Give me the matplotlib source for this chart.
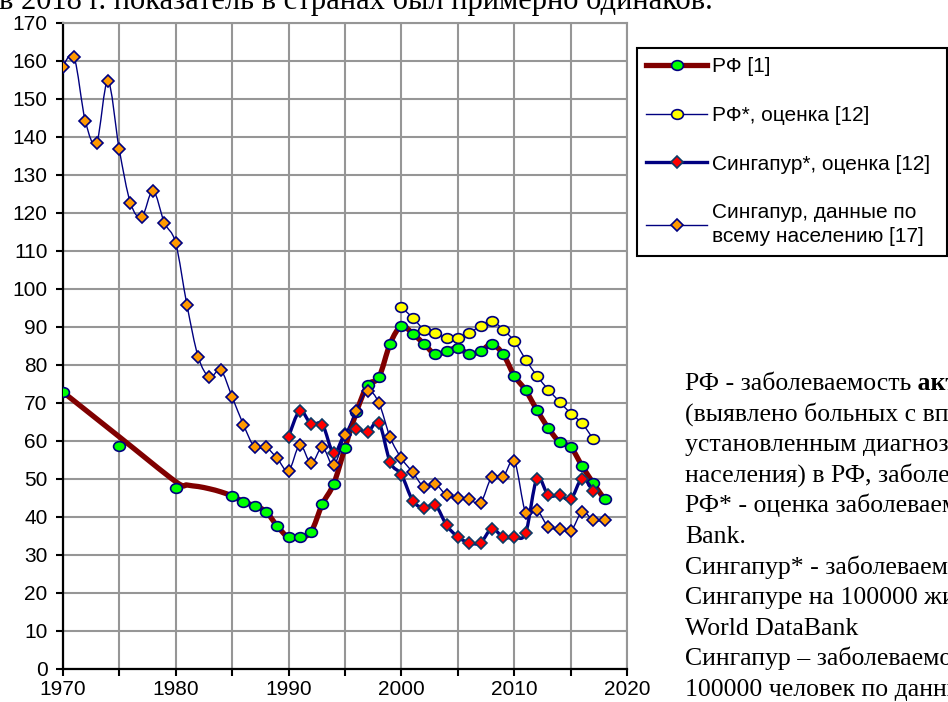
import numpy as np
import matplotlib
matplotlib.use("Agg")
import matplotlib.pyplot as plt
from matplotlib.path import Path
from matplotlib.patches import PathPatch
from matplotlib.lines import Line2D
from matplotlib.ticker import MultipleLocator

# РФ [1] - markers
rf_years = [1970, 1975, 1980] + list(range(1985, 2019))
rf_vals = [72.9, 58.7, 47.6,
           45.5, 44.0, 42.9, 41.4, 37.6, 34.6, 34.6, 36.1, 43.4, 48.7,
           58.2, 67.5, 74.7, 76.7, 85.6, 90.2, 88.2, 85.5, 82.8, 83.6,
           84.5, 82.8, 83.6, 85.4, 82.8, 77.1, 73.3, 68.1, 63.4, 59.7,
           58.3, 53.4, 48.8, 44.6]
# РФ [1] - the thick line before 1985 (drawn without markers)
rf_line_early_years = [1970, 1975, 1980, 1981, 1982, 1983, 1984]
rf_line_early_vals = [72.9, 61.1, 49.3, 48.4, 48.0, 47.4, 46.6]

# РФ*, оценка [12]
rfe_years = list(range(2000, 2018))
rfe_vals = [95.1, 92.4, 89.3, 88.3, 87.1, 87.1, 88.3, 90.3, 91.5, 89.3,
            86.2, 81.4, 77.1, 73.5, 70.3, 67.2, 64.6, 60.4]

# Сингапур*, оценка [12]
sge_years = list(range(1990, 2018))
sge_vals = [61.1, 67.9, 64.4, 64.3, 56.8, 61.9, 63.2, 62.3, 64.8, 54.4,
            51.1, 44.3, 42.3, 43.1, 37.8, 34.7, 33.2, 33.2, 36.9, 34.7,
            34.7, 35.8, 50.1, 45.7, 45.7, 44.7, 50.1, 46.8]

# Сингапур, данные по всему населению [17]
sg_years = list(range(1970, 2019))
sg_vals = [158.4, 161.0, 144.2, 138.4, 154.7, 136.8, 122.6, 118.9, 125.8, 117.4,
           112.1, 95.8, 82.1, 76.8, 78.6, 71.6, 64.3, 58.3, 58.3, 55.4,
           52.1, 58.9, 54.1, 58.3, 53.6, 61.5, 67.9, 73.2, 70.0, 60.9,
           55.4, 51.7, 47.9, 48.6, 45.7, 45.1, 44.7, 43.7, 50.5, 50.5,
           54.7, 41.1, 41.8, 37.4, 36.9, 36.3, 41.3, 39.1, 39.1]

labels = ["РФ [1]", "РФ*, оценка [12]", "Сингапур*, оценка [12]",
          "Сингапур, данные по\nвсему населению [17]"]

top_line = "в 2018 г. показатель в странах был примерно одинаков."
note_lines = [
    "РФ - заболеваемость",
    "(выявлено больных с впервые в жизни",
    "установленным диагнозом на 100000",
    "населения) в РФ, заболеваемость",
    "РФ* - оценка заболеваемости по World Data",
    "Bank.",
    "Сингапур* - заболеваемость туберкулезом в",
    "Сингапуре на 100000 жителей по данным",
    "World DataBank",
    "Сингапур – заболеваемость туберкулезом на",
    "100000 человек по данным",
]
note_bold = " активным туберкулезом"

plt.rcParams['font.family'] = ['Liberation Sans', 'DejaVu Sans']

NAVY = '#000080'
circ = Path.unit_circle()
ell = Path(circ.vertices * [1.0, 0.82], circ.codes)


def smooth_path(xs, ys):
    # Excel-like smoothed line: cubic Bezier through every point
    p = np.column_stack([xs, ys]).astype(float)
    pe = np.vstack([p[0], p, p[-1]])
    verts = [p[0]]
    codes = [Path.MOVETO]
    for i in range(len(p) - 1):
        c1 = pe[i + 1] + (pe[i + 2] - pe[i]) / 6
        c2 = pe[i + 2] - (pe[i + 3] - pe[i + 1]) / 6
        verts += [c1, c2, pe[i + 2]]
        codes += [Path.CURVE4] * 3
    return Path(verts, codes)


def draw_line(ax, xs, ys, color, lw, z):
    patch = PathPatch(smooth_path(xs, ys), facecolor='none', edgecolor=color,
                      lw=lw, zorder=z, capstyle='round', joinstyle='round')
    ax.add_patch(patch)


fig = plt.figure(figsize=(9.48, 7.02), dpi=100)
ax = fig.add_axes([62.7 / 948, 1 - 669 / 702, 564.6 / 948, 646.3 / 702])

# РФ [1]
rf_line_x = rf_line_early_years + rf_years[3:]
rf_line_y = rf_line_early_vals + rf_vals[3:]
draw_line(ax, rf_line_x, rf_line_y, '#800000', 3.8, 3)
ax.plot(rf_years, rf_vals, ls='none', marker=ell, ms=8.5, mfc='#00ff00',
        mec=NAVY, mew=1.2, zorder=4)

# РФ*
draw_line(ax, rfe_years, rfe_vals, NAVY, 1.0, 5)
ax.plot(rfe_years, rfe_vals, ls='none', marker=ell, ms=8.5, mfc='#ffff00',
        mec=NAVY, mew=1.2, zorder=6)

# Сингапур*
draw_line(ax, sge_years, sge_vals, NAVY, 2.4, 7)
ax.plot(sge_years, sge_vals, ls='none', marker='D', ms=6, mfc='#ff0000',
        mec='#0d3b66', mew=1.2, zorder=8)

# Сингапур
draw_line(ax, sg_years, sg_vals, NAVY, 1.0, 9)
ax.plot(sg_years, sg_vals, ls='none', marker='D', ms=6, mfc='#ff9900',
        mec=NAVY, mew=1.2, zorder=10)

ax.set_xlim(1970, 2020)
ax.set_ylim(0, 170)
ax.xaxis.set_major_locator(MultipleLocator(10))
ax.xaxis.set_minor_locator(MultipleLocator(5))
ax.yaxis.set_major_locator(MultipleLocator(10))
ax.set_axisbelow(True)
ax.grid(which='both', axis='x', color='#969696', lw=1.5)
ax.grid(which='major', axis='y', color='#969696', lw=1.5)
ax.tick_params(which='both', direction='out', length=5, width=1.5,
               labelsize=15)
ax.tick_params(axis='x', pad=3)
ax.tick_params(axis='y', pad=6)
for side in ['left', 'bottom']:
    ax.spines[side].set_color('black')
    ax.spines[side].set_linewidth(1.6)
for side in ['top', 'right']:
    ax.spines[side].set_color('#969696')
    ax.spines[side].set_linewidth(1.5)

handles = [
    Line2D([], [], color='#800000', lw=3.8, marker=ell, ms=8.5,
           mfc='#00ff00', mec=NAVY, mew=1.2),
    Line2D([], [], color=NAVY, lw=1.0, marker=ell, ms=8.5,
           mfc='#ffff00', mec=NAVY, mew=1.2),
    Line2D([], [], color=NAVY, lw=2.4, marker='D', ms=6,
           mfc='#ff0000', mec='#0d3b66', mew=1.2),
    Line2D([], [], color=NAVY, lw=1.0, marker='D', ms=6,
           mfc='#ff9900', mec=NAVY, mew=1.2),
]
leg = ax.legend(handles, labels, loc='upper left',
                bbox_to_anchor=(637 / 948, 1 - 257 / 702, 310 / 948, 209 / 702),
                bbox_transform=fig.transFigure, mode='expand', borderaxespad=0,
                fancybox=False, edgecolor='black', framealpha=1, fontsize=15,
                handlelength=2.9, handletextpad=0.25, labelspacing=1.42,
                borderpad=0.45)
leg.get_frame().set_linewidth(1.5)
for t in leg.get_texts():
    t.set_linespacing(1.35)

# text around the chart (part of the surrounding document)
fig.text(-1 / 948, 1 - 9.5 / 702, top_line, family='Liberation Serif',
         fontsize=22, va='baseline', ha='left')

renderer = fig.canvas.get_renderer()
for i, line in enumerate(note_lines):
    t = fig.text(685 / 948, 1 - (390 + i * 30.6) / 702, line,
                 family='Liberation Serif', fontsize=18.5, va='baseline')
    if i == 0:
        bb = t.get_window_extent(renderer)
        fig.text(bb.x1 / fig.bbox.width, 1 - 390 / 702, note_bold,
                 family='Liberation Serif', fontsize=18.5, fontweight='bold',
                 va='baseline')

fig.savefig("out.png", dpi=100)
